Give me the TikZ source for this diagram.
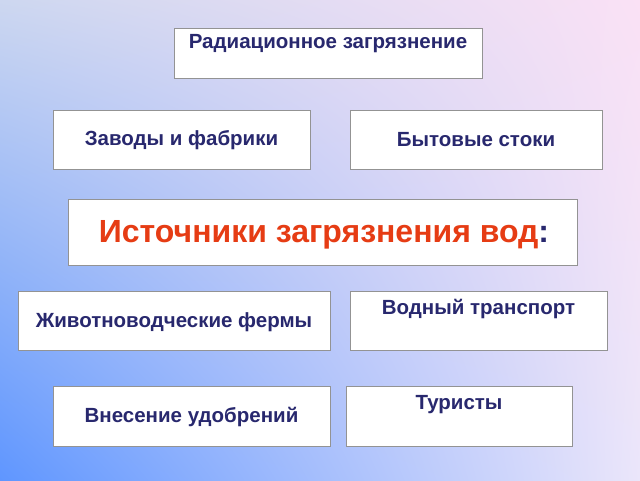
\documentclass[tikz,border=0pt]{standalone}
\usepackage{fontspec}
\setmainfont{Liberation Sans}
\usetikzlibrary{shadings}
\begin{document}
\begin{tikzpicture}[x=1pt,y=-1pt,
  box/.style={draw=gray!85,line width=0.9pt,fill=white},
  lbl/.style={font=\bfseries\fontsize{20.5}{24}\selectfont,text=txt},
]
\definecolor{txt}{RGB}{40,40,110}
\definecolor{ttl}{RGB}{230,60,20}
\definecolor{cbl}{RGB}{95,150,255}
\definecolor{cul}{RGB}{205,215,240}
\definecolor{clr}{RGB}{235,230,250}
\definecolor{cur}{RGB}{250,225,245}
\useasboundingbox (0,0) rectangle (640,480);
\shade[lower left=cbl,upper left=cul,lower right=clr,upper right=cur] (0,480) rectangle (640,0);
\draw[box] (174,28) rectangle (482,78);
\node[lbl] (t1) at (328,44) {Радиационное загрязнение};
\draw[box] (53,110) rectangle (310,169);
\node[lbl] (t2) at (181.5,140) {Заводы и фабрики};
\draw[box] (350,110) rectangle (602,169);
\node[lbl] (t3) at (476,140) {Бытовые стоки};
\draw[box] (68,199) rectangle (577,265);
\node[font=\bfseries\fontsize{32}{38}\selectfont] (t4) at (324,235) {\textcolor{ttl}{Источники загрязнения вод}\textcolor{txt}{:}};
\draw[box] (18,291) rectangle (330,350);
\node[lbl] (t5) at (174,322) {Животноводческие фермы};
\draw[box] (350,291) rectangle (607,350);
\node[lbl] (t6) at (478.5,309) {Водный транспорт};
\draw[box] (53,386) rectangle (330,446);
\node[lbl] (t7) at (191.5,417) {Внесение удобрений};
\draw[box] (346,386) rectangle (572,446);
\node[lbl] (t8) at (459,405) {Туристы};
\end{tikzpicture}
\end{document}
